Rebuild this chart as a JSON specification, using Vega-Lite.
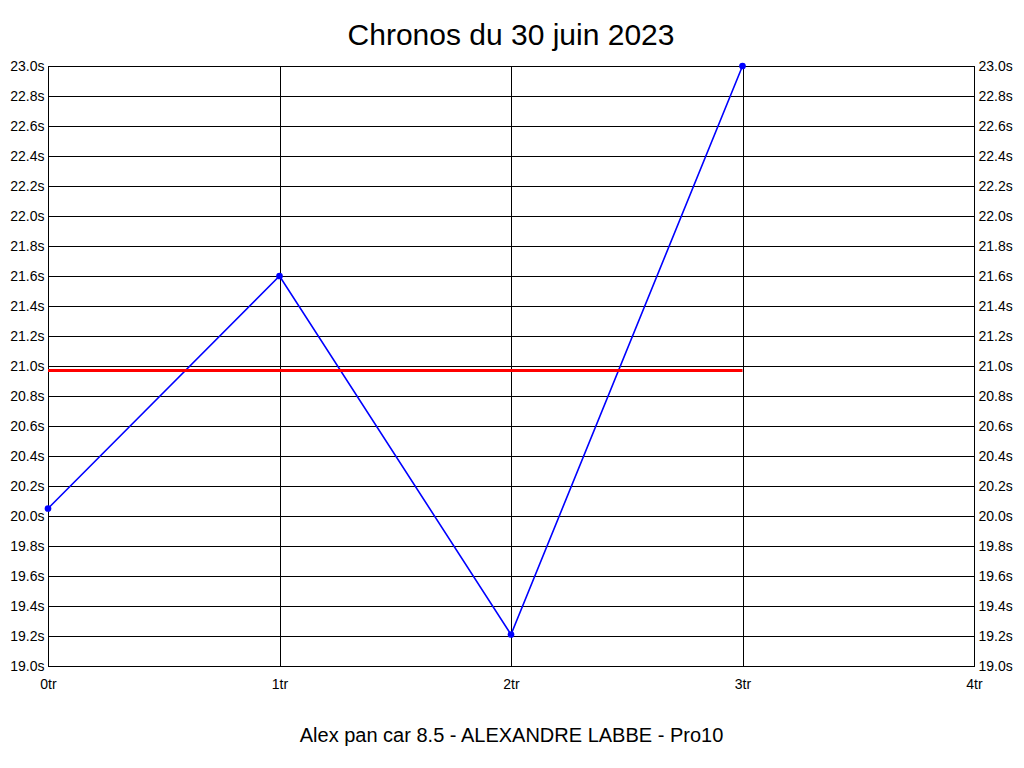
{
  "$schema": "https://vega.github.io/schema/vega-lite/v6.json",
  "autosize": {"type": "none"},
  "width": 926,
  "height": 600,
  "padding": {"left": 48, "top": 66, "right": 50, "bottom": 102},
  "background": "white",
  "title": {
    "text": "Chronos du 30 juin 2023",
    "font": "Liberation Sans",
    "fontSize": 30,
    "fontWeight": "normal",
    "color": "black",
    "anchor": "middle",
    "offset": 8
  },
  "config": {
    "view": {"stroke": "black", "strokeWidth": 1},
    "axis": {
      "labelFont": "Liberation Sans",
      "labelFontSize": 14,
      "labelColor": "black",
      "labelFlush": false,
      "labelOverlap": false,
      "domainColor": "black",
      "gridColor": "black",
      "gridOpacity": 1,
      "gridWidth": 1,
      "ticks": false
    }
  },
  "datasets": {
    "laps": [
      {"tour": 0, "temps": 20.05},
      {"tour": 1, "temps": 21.6},
      {"tour": 2, "temps": 19.21},
      {"tour": 3, "temps": 23.0}
    ],
    "moyenne": [
      {"tour": 0, "temps": 20.97},
      {"tour": 3, "temps": 20.97}
    ]
  },
  "layer": [
    {
      "data": {"name": "laps"},
      "mark": {"type": "line", "color": "#0000ff", "strokeWidth": 1.6, "point": {"filled": true, "size": 45, "color": "#0000ff", "opacity": 1}},
      "encoding": {
        "x": {
          "field": "tour", "type": "quantitative",
          "scale": {"domain": [0, 4], "nice": false, "zero": false},
          "axis": {
            "values": [0, 1, 2, 3, 4],
            "labelExpr": "datum.value + 'tr'",
            "labelPadding": 11,
            "title": "Alex pan car 8.5 - ALEXANDRE LABBE - Pro10",
            "titleFont": "Liberation Sans",
            "titleFontSize": 20,
            "titleFontWeight": "normal",
            "titleColor": "black",
            "titlePadding": 34
          }
        },
        "y": {
          "field": "temps", "type": "quantitative",
          "scale": {"domain": [19, 23], "nice": false, "zero": false},
          "axis": {
            "values": [19, 19.2, 19.4, 19.6, 19.8, 20, 20.2, 20.4, 20.6, 20.8, 21, 21.2, 21.4, 21.6, 21.8, 22, 22.2, 22.4, 22.6, 22.8, 23],
            "labelExpr": "format(datum.value, '.1f') + 's'",
            "labelPadding": 4,
            "title": null
          }
        }
      }
    },
    {
      "data": {"name": "moyenne"},
      "mark": {"type": "line", "color": "#ff0000", "strokeWidth": 3},
      "encoding": {
        "x": {"field": "tour", "type": "quantitative"},
        "y": {
          "field": "temps", "type": "quantitative",
          "axis": {
            "orient": "right",
            "grid": false,
            "values": [19, 19.2, 19.4, 19.6, 19.8, 20, 20.2, 20.4, 20.6, 20.8, 21, 21.2, 21.4, 21.6, 21.8, 22, 22.2, 22.4, 22.6, 22.8, 23],
            "labelExpr": "format(datum.value, '.1f') + 's'",
            "labelPadding": 4,
            "title": null
          }
        }
      }
    }
  ],
  "resolve": {"axis": {"y": "independent"}}
}
